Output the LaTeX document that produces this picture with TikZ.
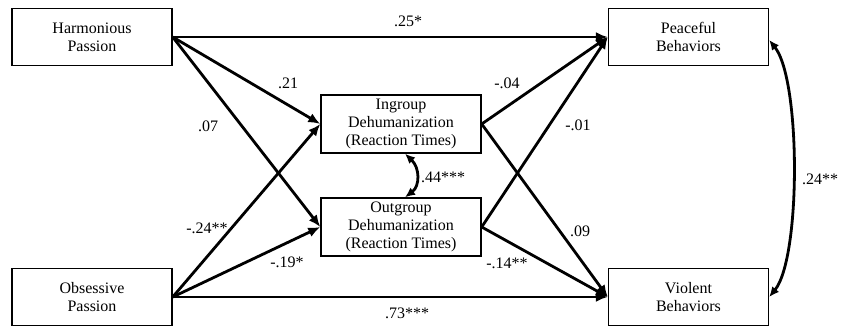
\documentclass[tikz,border=0pt]{standalone}
\usepackage{fontspec}
\setmainfont{Liberation Serif}
\usetikzlibrary{arrows.meta}
\begin{document}
\begin{tikzpicture}[x=1pt,y=-1pt,
  box/.style={draw,line width=1.4pt,minimum width=160pt,minimum height=57pt,inner sep=0pt,align=center,font=\fontsize{16}{18}\selectfont},
  path/.style={line width=2.8pt,-{Latex[length=12pt,width=10pt]}},
  cov/.style={line width=2.8pt,{Latex[length=10pt,width=9pt]}-{Latex[length=10pt,width=9pt]}},
  lab/.style={font=\fontsize{16}{18}\selectfont,inner sep=0pt}]
\path[use as bounding box] (0,0) rectangle (847,326);
\node[box] (hp) at (92,37) {Harmonious\\Passion};
\node[box] (op) at (92,297) {Obsessive\\Passion};
\node[box] (pb) at (688.5,37) {Peaceful\\Behaviors};
\node[box] (vb) at (688.5,297) {Violent\\Behaviors};
\node[box,minimum height=58pt] (ig) at (401,124) {Ingroup\\Dehumanization\\(Reaction Times)};
\node[box,minimum height=58pt] (og) at (401,227) {Outgroup\\Dehumanization\\(Reaction Times)};
\draw[path] (hp.east) -- (pb.west);
\draw[path] (hp.east) -- (ig.west);
\draw[path] (hp.east) -- (og.west);
\draw[path] (op.east) -- (ig.west);
\draw[path] (op.east) -- (og.west);
\draw[path] (op.east) -- (vb.west);
\draw[path] (ig.east) -- (pb.west);
\draw[path] (ig.east) -- (vb.west);
\draw[path] (og.east) -- (pb.west);
\draw[path] (og.east) -- (vb.west);
\coordinate (igb) at ([xshift=4pt]ig.south);
\coordinate (ogt) at ([xshift=4pt]og.north);
\draw[cov] (igb) .. controls (420,168) and (420,186) .. (ogt);
\coordinate (pbe) at ([yshift=-3pt]pb.east);
\coordinate (vbe) at (vb.east);
\draw[cov] (pbe) .. controls (801,80) and (801,258) .. (vbe);
\node[lab] (l1) at (408,21) {.25*};
\node[lab] (l2) at (407,313) {.73***};
\node[lab] (l3) at (288,83) {.21};
\node[lab] (l4) at (208,126) {.07};
\node[lab] (l5) at (507,83) {-.04};
\node[lab] (l6) at (578,125) {-.01};
\node[lab] (l7) at (580,231) {.09};
\node[lab] (l8) at (507,263) {-.14**};
\node[lab] (l9) at (820,179) {.24**};
\node[lab] (l10) at (207,228) {-.24**};
\node[lab] (l11) at (287,262) {-.19*};
\node[lab] (l12) at (443,177) {.44***};
\end{tikzpicture}
\end{document}
